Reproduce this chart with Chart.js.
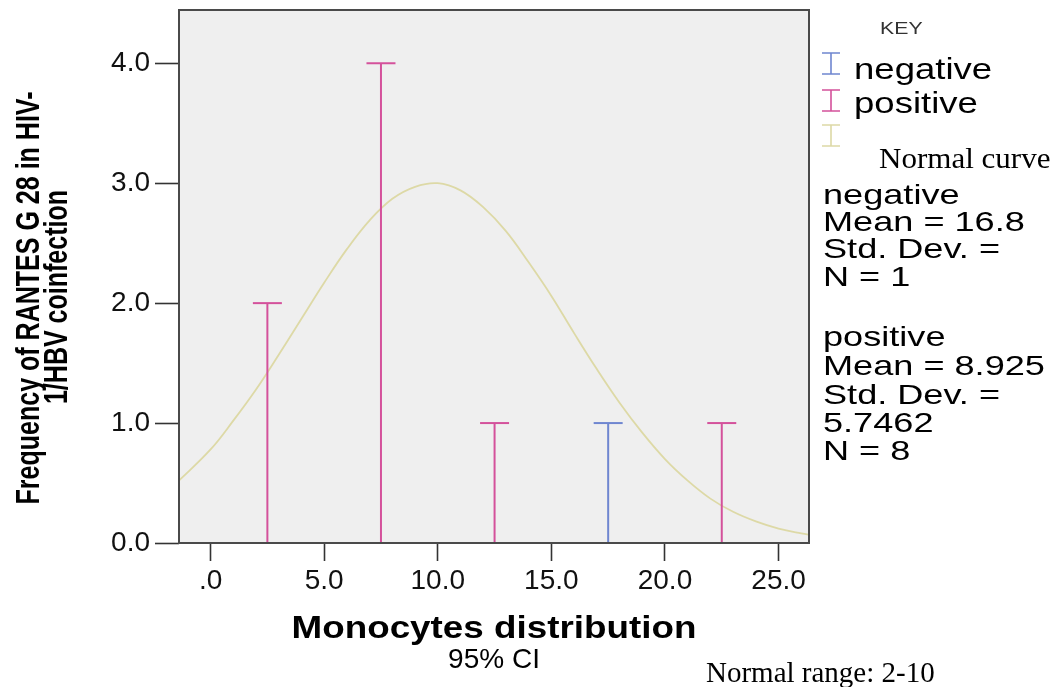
<!DOCTYPE html>
<html><head><meta charset="utf-8">
<script src="https://cdn.jsdelivr.net/npm/chart.js@4.4.1/dist/chart.umd.min.js"></script>
<style>
html,body{margin:0;padding:0;background:#fff;}
#wrap{position:relative;width:1062px;height:687px;overflow:hidden;font-family:'Liberation Sans',Arial,sans-serif;}
canvas{position:absolute;left:0;top:0;}
.t{position:absolute;white-space:nowrap;color:#000;transform-origin:left center;line-height:28px;height:28px;}
.big{font-size:29px;transform:scaleX(1.26);}
.blk{font-size:28px;transform:scaleX(1.29);}
.serif{font-family:'Liberation Serif','Times New Roman',serif;font-size:29px;}
.sym{position:absolute;}
</style></head>
<body><div id="wrap"><canvas id="c" width="1062" height="687"></canvas>
<div class="t" style="left:880px;top:15px;font-size:16px;color:#333;transform:scaleX(1.33);">KEY</div>
<svg class="sym" style="left:821px;top:52px" width="20" height="23"><path d="M1 1H19M10 1V22M1 22H19" stroke="#6F86D0" stroke-width="1.6" fill="none"/></svg>
<div class="t big" style="left:854px;top:55px;">negative</div>
<svg class="sym" style="left:821px;top:89px" width="20" height="23"><path d="M1 1H19M10 1V22M1 22H19" stroke="#D4519B" stroke-width="1.6" fill="none"/></svg>
<div class="t big" style="left:854px;top:89px;">positive</div>
<svg class="sym" style="left:821px;top:124px" width="20" height="23"><path d="M1 1H19M10 1V22M1 22H19" stroke="#DDD9A6" stroke-width="1.6" fill="none"/></svg>
<div class="t serif" style="left:879px;top:144px;transform:scaleX(1.07);">Normal curve</div>
<div class="t blk" style="left:823px;top:181px;">negative</div>
<div class="t blk" style="left:823px;top:208px;">Mean = 16.8</div>
<div class="t blk" style="left:823px;top:235px;">Std. Dev. =</div>
<div class="t blk" style="left:823px;top:263px;">N = 1</div>
<div class="t blk" style="left:823px;top:323px;">positive</div>
<div class="t blk" style="left:823px;top:352px;">Mean = 8.925</div>
<div class="t blk" style="left:823px;top:381px;">Std. Dev. =</div>
<div class="t blk" style="left:823px;top:409px;">5.7462</div>
<div class="t blk" style="left:823px;top:437px;">N = 8</div>
<div class="t serif" style="left:706px;top:658px;">Normal range: 2-10</div>
</div>
<script>
// ---- data ----
const xTickValues = [0, 5, 10, 15, 20, 25];
const xTickLabels = ['.0', '5.0', '10.0', '15.0', '20.0', '25.0'];
const yTickValues = [0, 1, 2, 3, 4];
const yTickLabels = ['0.0', '1.0', '2.0', '3.0', '4.0'];
const positiveBins = [2.5, 7.5, 12.5, 22.5];
const positiveCounts = [2, 4, 1, 1];
const negativeBins = [17.5];
const negativeCounts = [1];
const curveX = [-1.5, 0, 1, 2, 3, 4, 5, 6, 7, 8, 9, 10, 11, 12, 13, 14, 15, 16, 17, 18, 19, 20, 21, 22, 23, 24, 25, 26, 26.5];
const curveY = [0.50, 0.78, 1.02, 1.28, 1.57, 1.87, 2.17, 2.45, 2.69, 2.87, 2.97, 3.00, 2.94, 2.80, 2.60, 2.34, 2.06, 1.75, 1.45, 1.17, 0.92, 0.70, 0.52, 0.37, 0.26, 0.18, 0.12, 0.08, 0.065];
const xTitle = 'Monocytes distribution';
const xSubTitle = '95% CI';
const yTitle = ['Frequency of RANTES G 28 in HIV-', '1/HBV coinfection'];

const PINK = '#D4519B', BLUE = '#6F86D0', CURVE = '#DDD9A6';

function barSets(bins, counts, color) {
  return bins.map((b, i) => ({
    type: 'scatter',
    data: [{x: b, y: 0}, {x: b, y: counts[i]}],
    showLine: true,
    borderColor: color,
    borderWidth: 2,
    pointStyle: 'line',
    pointRadius: 14.5,
    pointHoverRadius: 14.5,
    pointBorderWidth: 2,
    pointBorderColor: color,
    order: 1
  }));
}

const datasets = [
  ...barSets(positiveBins, positiveCounts, PINK),
  ...barSets(negativeBins, negativeCounts, BLUE),
  {
    type: 'scatter',
    data: curveX.map((x, i) => ({x: x, y: curveY[i]})),
    showLine: true,
    borderColor: CURVE,
    borderWidth: 1.8,
    pointRadius: 0,
    tension: 0.4,
    order: 2
  }
];

function drawText(ctx, text, cx, cy, font, targetW, rot) {
  ctx.save();
  ctx.font = font;
  ctx.translate(cx, cy);
  if (rot) ctx.rotate(rot);
  const w = ctx.measureText(text).width;
  if (targetW) ctx.scale(targetW / w, 1);
  ctx.textAlign = 'center';
  ctx.textBaseline = 'middle';
  ctx.fillStyle = '#000';
  ctx.fillText(text, 0, 0);
  ctx.restore();
}

const deco = {
  id: 'deco',
  beforeDraw(chart) {
    const {ctx, chartArea: a} = chart;
    ctx.save();
    ctx.fillStyle = '#EFEFEF';
    ctx.fillRect(a.left, a.top, a.right - a.left, a.bottom - a.top);
    ctx.restore();
  },
  afterDatasetsDraw(chart) {
    const {ctx, chartArea: a} = chart;
    ctx.save();
    ctx.strokeStyle = '#4a4a4a';
    ctx.lineWidth = 2;
    ctx.strokeRect(a.left, a.top, a.right - a.left, a.bottom - a.top);
    ctx.restore();
  },
  afterDraw(chart) {
    const ctx = chart.ctx;
    const cx = (chart.chartArea.left + chart.chartArea.right) / 2;
    drawText(ctx, xTitle, cx, 629, "bold 31px 'Liberation Sans', Arial, sans-serif", 405, 0);
    drawText(ctx, xSubTitle, cx, 660, "28px 'Liberation Sans', Arial, sans-serif", 0, 0);
    const f = "bold 33px 'Liberation Sans Narrow', 'Arial Narrow', 'Liberation Sans', sans-serif";
    ctx.save();
    ctx.font = f;
    const w1 = ctx.measureText(yTitle[0]).width;
    const w2 = ctx.measureText(yTitle[1]).width;
    ctx.restore();
    const k = 413 / w1;
    drawText(ctx, yTitle[0], 30, 298, f, w1 * k, -Math.PI / 2);
    drawText(ctx, yTitle[1], 58, 297, f, w2 * k, -Math.PI / 2);
  }
};

new Chart(document.getElementById('c'), {
  type: 'scatter',
  data: {datasets},
  options: {
    responsive: false,
    animation: false,
    events: [],
    layout: {autoPadding: false, padding: {left: 0, top: 10, right: 253, bottom: 0}},
    plugins: {legend: {display: false}, tooltip: {enabled: false}},
    scales: {
      x: {
        type: 'linear', min: -1.39, max: 26.34,
        afterFit(s) { s.height = 144; s.paddingLeft = 0; s.paddingRight = 0; },
        border: {display: false},
        grid: {drawOnChartArea: false, drawTicks: true, tickLength: 18, tickColor: '#333', tickWidth: 1.6},
        ticks: {
          stepSize: 5, includeBounds: false, autoSkip: false, maxRotation: 0, padding: 3,
          color: '#111', font: {family: "'Liberation Sans', Arial, sans-serif", size: 28},
          callback: v => { const i = xTickValues.indexOf(Math.round(v)); return i >= 0 ? xTickLabels[i] : ''; }
        }
      },
      y: {
        type: 'linear', min: 0, max: 4.444,
        afterFit(s) { s.width = 179; s.paddingTop = 0; s.paddingBottom = 0; },
        border: {display: false},
        grid: {drawOnChartArea: false, drawTicks: true, tickLength: 24, tickColor: '#333', tickWidth: 1.6},
        ticks: {
          stepSize: 1, includeBounds: false, padding: 5,
          color: '#111', font: {family: "'Liberation Sans', Arial, sans-serif", size: 28},
          callback: v => { const i = yTickValues.indexOf(Math.round(v)); return i >= 0 ? yTickLabels[i] : ''; }
        }
      }
    }
  },
  plugins: [deco]
});
</script>
</body></html>
